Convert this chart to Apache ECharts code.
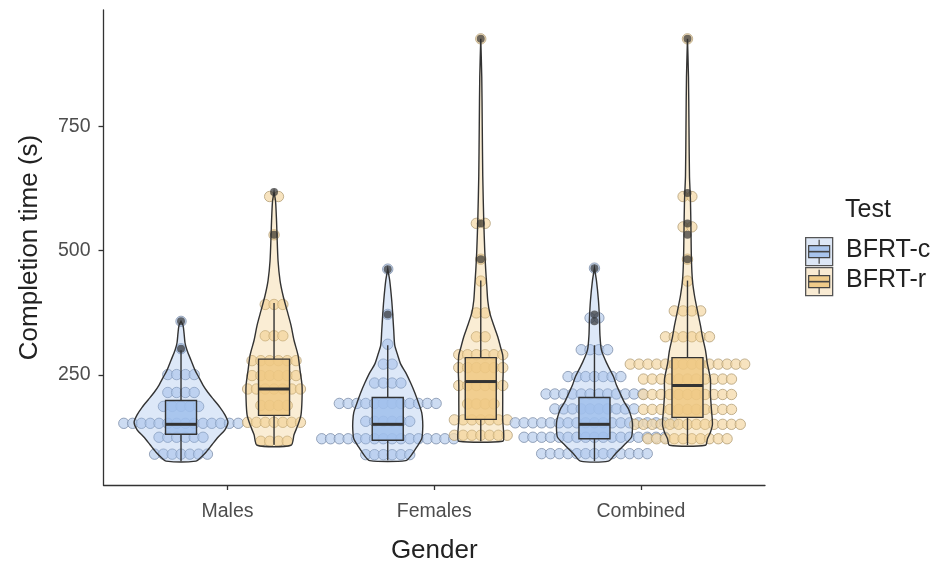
<!DOCTYPE html>
<html>
<head>
<meta charset="utf-8">
<script src="https://cdn.jsdelivr.net/npm/echarts@6/dist/echarts.min.js"></script>
<style>html,body{margin:0;padding:0;background:#fff}#chart{width:938px;height:565px}</style>
</head>
<body>
<div id="chart"></div>
<script>
// ---------------- data ----------------
const categories = ['Males', 'Females', 'Combined'];
const tests = ['BFRT-c', 'BFRT-r'];
const yTicks = [250, 500, 750];

// box stats: [lower whisker, Q1, median, Q3, upper whisker]
const boxMalesC = [77, 131, 151, 199, 300];
const boxMalesR = [110, 169, 222, 282, 395];
const boxFemalesC = [79, 119, 151, 205, 310];
const boxFemalesR = [117, 161, 237, 285, 440];
const boxCombinedC = [77, 122, 151, 205, 310];
const boxCombinedR = [109, 165, 229, 285, 440];

// outliers
const outMalesC = [303, 358];
const outMalesR = [532, 618];
const outFemalesC = [372, 463];
const outFemalesR = [483, 555, 926];
const outCombinedC = [358, 372, 465];
const outCombinedR = [483, 532, 555, 616, 926];

// violin density profiles: [value, relative half-width]
const vioMalesC = [[358,0],[350,2],[335,3],[315,4],[300,6],[280,10],[260,14],[245,18],[230,22],[215,27],[200,33],[185,39],[170,44],[155,47],[140,44],[125,37],[110,31],[95,25],[85,20],[77,15]];
const vioMalesR = [[618,0],[600,1.5],[560,2.5],[530,3],[480,4],[440,6],[410,9],[380,13],[350,17],[320,20],[290,24],[260,26],[230,28],[200,28],[170,27],[150,24],[130,20],[109,17]];
const vioFemalesC = [[463,0],[440,2],[400,4],[372,5],[340,6],[310,7],[290,10],[272,13],[255,18],[234,23],[215,27],[193,31],[175,34],[157,35],[140,35],[122,34],[105,29],[90,24],[78,18]];
const vioFemalesR = [[926,0],[850,1],[750,1.5],[650,2],[560,3],[500,4],[460,5],[430,6],[400,7],[375,9],[350,13],[327,17],[305,20],[290,22],[260,22.5],[230,22],[200,22],[160,22],[130,23],[117,22]];
const vioCombinedC = [[465,0],[440,2],[400,4],[365,5],[330,5.5],[300,7],[275,12],[247,19],[230,22],[212,26],[195,30],[182,34],[165,37],[154,38],[140,38],[125,37],[110,30],[92,21],[77,14]];
const vioCombinedR = [[926,0],[850,1],[750,1.5],[650,2],[600,3],[540,3.5],[480,4],[440,5],[410,7],[379,10],[350,13],[327,15],[300,18],[272,20],[242,23],[211,23],[181,24],[151,25],[135,23],[122,20],[109,18]];

// dotplot rows: [bin value, dot count]
const dotsMalesC = [[358,1],[303,1],[251,4],[215,4],[187,5],[153,14],[125,6],[91,7]];
const dotsMalesR = [[609,2],[532,1],[392,3],[329,3],[279,6],[249,6],[222,7],[189,4],[155,7],[117,4]];
const dotsFemalesC = [[463,1],[372,1],[312,1],[272,2],[234,4],[193,12],[157,6],[122,16],[90,6]];
const dotsFemalesR = [[926,1],[555,2],[483,1],[439,1],[375,2],[327,2],[291,6],[265,6],[229,6],[192,4],[160,7],[129,7]];
const dotsCombinedC = [[465,1],[365,2],[301,4],[247,7],[212,12],[182,10],[154,19],[125,17],[92,13]];
const dotsCombinedR = [[926,1],[609,2],[548,2],[483,1],[439,1],[379,4],[327,6],[272,14],[242,11],[211,11],[181,11],[151,13],[122,10]];

// ---------------- assembly ----------------
const groups = [
  {cat:0, t:0, box:boxMalesC, out:outMalesC, vio:vioMalesC, dots:dotsMalesC},
  {cat:0, t:1, box:boxMalesR, out:outMalesR, vio:vioMalesR, dots:dotsMalesR},
  {cat:1, t:0, box:boxFemalesC, out:outFemalesC, vio:vioFemalesC, dots:dotsFemalesC},
  {cat:1, t:1, box:boxFemalesR, out:outFemalesR, vio:vioFemalesR, dots:dotsFemalesR},
  {cat:2, t:0, box:boxCombinedC, out:outCombinedC, vio:vioCombinedC, dots:dotsCombinedC},
  {cat:2, t:1, box:boxCombinedR, out:outCombinedR, vio:vioCombinedR, dots:dotsCombinedR}
];
const DODGE = 0.225, BOXHALF = 0.075, VIOSCALE = 0.227 / 47;
function gx(g){ return g.cat + 1 + (g.t === 0 ? -DODGE : DODGE); }

const boxFill = ['rgba(160,192,236,0.85)', 'rgba(238,200,130,0.85)'];
const vioFill = ['rgba(160,192,236,0.36)', 'rgba(240,204,136,0.36)'];
const dotFill = ['rgba(188,208,238,0.75)', 'rgba(244,218,170,0.75)'];
const dotStroke = ['rgba(120,138,165,0.75)', 'rgba(175,155,115,0.75)'];
const LINE = '#333333';

const dotData = [], vioData = [], boxData = [], outData = [];
groups.forEach((g, i) => {
  const x = gx(g);
  g.dots.forEach(d => dotData.push([x, d[0], d[1], g.t]));
  vioData.push([x, g.box[2], i]);
  boxData.push([x, g.box[0], g.box[1], g.box[2], g.box[3], g.box[4], g.t]);
  g.out.forEach(v => outData.push([x, v]));
});

const FONT = '"Liberation Sans", Arial, sans-serif';
const chart = echarts.init(document.getElementById('chart'), null, {renderer: 'canvas'});
chart.setOption({
  animation: false,
  backgroundColor: '#ffffff',
  grid: {left: 103.5, right: 173, top: 10, bottom: 80, containLabel: false, outerBoundsMode: 'none'},
  xAxis: {
    type: 'value', min: 0.4, max: 3.6,
    name: 'Gender', nameLocation: 'middle', nameGap: 53,
    nameTextStyle: {fontFamily: FONT, fontSize: 26, color: '#222'},
    axisLine: {show: true, onZero: false, lineStyle: {color: LINE, width: 1.3}},
    axisTick: {show: true, customValues: [1, 2, 3], length: 5, lineStyle: {color: LINE, width: 1.3}},
    axisLabel: {show: true, customValues: [1, 2, 3], margin: 17, fontFamily: FONT, fontSize: 19.5, color: '#4d4d4d',
      formatter: v => categories[Math.round(v) - 1] || ''},
    splitLine: {show: false}
  },
  yAxis: {
    type: 'value', min: 29, max: 984,
    name: 'Completion time (s)', nameLocation: 'middle', nameGap: 61,
    nameTextStyle: {fontFamily: FONT, fontSize: 26, color: '#222'},
    axisLine: {show: true, onZero: false, lineStyle: {color: LINE, width: 1.3}},
    axisTick: {show: true, customValues: yTicks, length: 5, lineStyle: {color: LINE, width: 1.3}},
    axisLabel: {show: true, customValues: yTicks, margin: 13, fontFamily: FONT, fontSize: 19.5, color: '#4d4d4d'},
    splitLine: {show: false}
  },
  series: [
    {
      type: 'custom', name: 'dots', z: 2, data: dotData, encode: {x: 0, y: 1},
      renderItem: function (params, api) {
        const x = api.value(0), v = api.value(1), n = api.value(2), t = api.value(3);
        const c = api.coord([x, v]);
        const pitch = 8.8, children = [];
        for (let i = 0; i < n; i++) {
          children.push({type: 'circle', shape: {cx: c[0] + (i - (n - 1) / 2) * pitch, cy: c[1], r: 5.2},
            style: {fill: dotFill[t], stroke: dotStroke[t], lineWidth: 1}});
        }
        return {type: 'group', children: children};
      }
    },
    {
      type: 'custom', name: 'violins', z: 3, data: vioData, encode: {x: 0, y: 1},
      renderItem: function (params, api) {
        const g = groups[api.value(2)];
        const x = api.value(0);
        const pts = [];
        g.vio.forEach(p => pts.push(api.coord([x + p[1] * VIOSCALE, p[0]])));
        for (let i = g.vio.length - 1; i >= 0; i--) {
          const p = g.vio[i];
          pts.push(api.coord([x - p[1] * VIOSCALE, p[0]]));
        }
        return {type: 'polygon', shape: {points: pts, smooth: 0.25},
          style: {fill: vioFill[g.t], stroke: LINE, lineWidth: 1.4}};
      }
    },
    {
      type: 'custom', name: 'boxes', z: 4, data: boxData, encode: {x: 0, y: [1, 2, 3, 4, 5]},
      renderItem: function (params, api) {
        const x = api.value(0), t = api.value(6);
        const lo = api.coord([x, api.value(1)]), q1 = api.coord([x, api.value(2)]);
        const md = api.coord([x, api.value(3)]), q3 = api.coord([x, api.value(4)]);
        const hi = api.coord([x, api.value(5)]);
        const xl = api.coord([x - BOXHALF, 0])[0], xr = api.coord([x + BOXHALF, 0])[0];
        return {type: 'group', children: [
          {type: 'line', shape: {x1: lo[0], y1: lo[1], x2: q1[0], y2: q1[1]}, style: {stroke: LINE, lineWidth: 1.4}},
          {type: 'line', shape: {x1: q3[0], y1: q3[1], x2: hi[0], y2: hi[1]}, style: {stroke: LINE, lineWidth: 1.4}},
          {type: 'rect', shape: {x: xl, y: q3[1], width: xr - xl, height: q1[1] - q3[1]},
            style: {fill: boxFill[t], stroke: LINE, lineWidth: 1.4}},
          {type: 'line', shape: {x1: xl, y1: md[1], x2: xr, y2: md[1]}, style: {stroke: LINE, lineWidth: 3}}
        ]};
      }
    },
    {
      type: 'scatter', name: 'outliers', z: 5, data: outData, symbol: 'circle', symbolSize: 8,
      itemStyle: {color: 'rgba(45,45,45,0.85)'}
    }
  ],
  graphic: [
    {type: 'text', left: 845, top: 198, style: {text: 'Test', font: '25px ' + FONT, fill: '#222'}},
    {type: 'group', left: 805, top: 237, children: [
      {type: 'rect', shape: {x: 0, y: 0, width: 27, height: 28}, style: {fill: '#dde7f6', stroke: '#555', lineWidth: 1.3}},
      {type: 'line', shape: {x1: 13.5, y1: 2, x2: 13.5, y2: 8}, style: {stroke: '#444', lineWidth: 1.2}},
      {type: 'line', shape: {x1: 13.5, y1: 20, x2: 13.5, y2: 26}, style: {stroke: '#444', lineWidth: 1.2}},
      {type: 'rect', shape: {x: 3, y: 8, width: 21, height: 12}, style: {fill: '#a8c4ec', stroke: '#444', lineWidth: 1.2}},
      {type: 'line', shape: {x1: 3, y1: 14, x2: 24, y2: 14}, style: {stroke: '#444', lineWidth: 1.6}}
    ]},
    {type: 'group', left: 805, top: 267, children: [
      {type: 'rect', shape: {x: 0, y: 0, width: 27, height: 28}, style: {fill: '#f9ebd3', stroke: '#555', lineWidth: 1.3}},
      {type: 'line', shape: {x1: 13.5, y1: 2, x2: 13.5, y2: 8}, style: {stroke: '#444', lineWidth: 1.2}},
      {type: 'line', shape: {x1: 13.5, y1: 20, x2: 13.5, y2: 26}, style: {stroke: '#444', lineWidth: 1.2}},
      {type: 'rect', shape: {x: 3, y: 8, width: 21, height: 12}, style: {fill: '#efcb8a', stroke: '#444', lineWidth: 1.2}},
      {type: 'line', shape: {x1: 3, y1: 14, x2: 24, y2: 14}, style: {stroke: '#444', lineWidth: 1.6}}
    ]},
    {type: 'text', left: 846, top: 238, style: {text: tests[0], font: '25px ' + FONT, fill: '#222'}},
    {type: 'text', left: 846, top: 268, style: {text: tests[1], font: '25px ' + FONT, fill: '#222'}}
  ]
});
</script>
</body>
</html>
